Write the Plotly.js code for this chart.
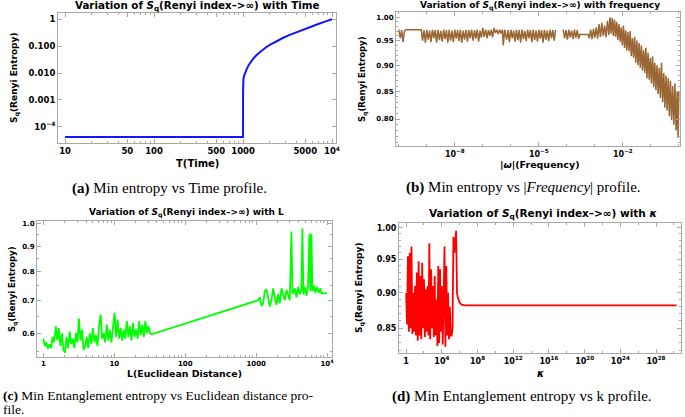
<!DOCTYPE html>
<html>
<head>
<meta charset="utf-8">
<script src="https://cdn.plot.ly/plotly-3.0.1.min.js"></script>
<style>
  body { margin: 0; background: #fff; }
  #chart { width: 685px; height: 417px; }
</style>
</head>
<body>
<div id="chart"></div>
<script>
// Data

// (a) entropy vs time
const timeT = [10, 1000, 1000.5, 1002, 1010, 1030, 1060, 1100, 1150, 1200, 1300, 1450, 1600, 1800,
  2000, 2400, 2800, 3300, 4000, 5000, 6000, 7000, 8500, 10000];
const entropyTime = [4.2e-5, 4.2e-5, 0.002, 0.004, 0.006, 0.008, 0.011, 0.014, 0.019, 0.024, 0.034, 0.05, 0.066, 0.089,
  0.11, 0.155, 0.2, 0.255, 0.33, 0.44, 0.55, 0.66, 0.83, 1.0];

// (b) entropy vs |frequency|, frequency given as powers of ten
const freqExp = [
  -10.0, -9.95, -9.9, -9.85, -9.8, -9.75, -9.2,
  -9.15, -9.1, -9.05, -9.0, -8.95, -8.9, -8.85, -8.8, -8.75, -8.7, -8.65, -8.6,
  -8.55, -8.5, -8.45, -8.4, -8.35, -8.3, -8.25, -8.2, -8.15, -8.1, -8.05, -8.0,
  -7.95, -7.9, -7.85, -7.8, -7.75, -7.7, -7.65, -7.6, -7.55, -7.5, -7.45, -7.4,
  -7.35, -7.3, -7.25, -7.2, -7.15, -7.1, -7.05, -7.0, -6.95, -6.9, -6.85, -6.8,
  -6.75, -6.7, -6.65, -6.6, -6.55, -6.5, -6.45, -6.4, -6.35, -6.3, -6.27, -6.22,
  -6.15, -6.1, -6.05, -6.0, -5.95, -5.9, -5.85, -5.8, -5.75, -5.7, -5.65, -5.6,
  -5.55, -5.5, -5.45, -5.4, -5.35, -5.3, -5.25, -5.2, -5.15, -5.1, -5.05, -5.0,
  -4.95, -4.9, -4.85, -4.8, -4.75, -4.7, -4.65, -4.6, -4.55, -4.5, -4.45, -4.4,
  -4.3,
  -4.13, -4.08, -4.03, -3.98, -3.93, -3.88, -3.83, -3.78, -3.73, -3.68, -3.63, -3.58, -3.54, -3.24,
  -3.2, -3.15, -3.1, -3.05, -3.0, -2.95, -2.9, -2.85, -2.8, -2.75, -2.7, -2.65,
  -2.6, -2.55, -2.5, -2.46, -2.42, -2.38, -2.34, -2.3, -2.26,
  -2.22, -2.18, -2.14, -2.1, -2.06, -2.02, -1.98, -1.94, -1.9, -1.86, -1.82, -1.78,
  -1.74, -1.7, -1.66, -1.62, -1.58, -1.54, -1.5, -1.46, -1.42, -1.38, -1.34, -1.3,
  -1.26, -1.22, -1.18, -1.14, -1.1, -1.06, -1.02, -0.98, -0.94, -0.9, -0.86, -0.82,
  -0.78, -0.74, -0.7, -0.66, -0.62, -0.58, -0.54, -0.5, -0.46, -0.42, -0.38, -0.34,
  -0.3, -0.26, -0.22, -0.18, -0.14, -0.1, -0.06, -0.03, 0.0
];
const entropyFreq = [
  0.973, 0.955, 0.972, 0.947, 0.970, 0.973, 0.973,
  0.950, 0.972, 0.946, 0.973, 0.952, 0.971, 0.947, 0.973, 0.955, 0.972, 0.946, 0.973,
  0.951, 0.970, 0.948, 0.973, 0.953, 0.972, 0.946, 0.973, 0.950, 0.971, 0.947, 0.973,
  0.954, 0.972, 0.949, 0.973, 0.946, 0.971, 0.952, 0.973, 0.948, 0.972, 0.955, 0.973,
  0.950, 0.972, 0.954, 0.973, 0.948, 0.971, 0.956, 0.977, 0.958, 0.973, 0.955, 0.972,
  0.960, 0.973, 0.957, 0.977, 0.966, 0.973, 0.964, 0.973, 0.965, 0.973, 0.940, 0.973,
  0.952, 0.972, 0.947, 0.973, 0.955, 0.971, 0.948, 0.973, 0.951, 0.972, 0.946, 0.973,
  0.953, 0.970, 0.949, 0.973, 0.955, 0.972, 0.947, 0.973, 0.951, 0.971, 0.948, 0.973,
  0.954, 0.972, 0.946, 0.973, 0.952, 0.971, 0.949, 0.973, 0.955, 0.972, 0.950, 0.973,
  null,
  0.973, 0.955, 0.972, 0.952, 0.973, 0.957, 0.971, 0.953, 0.973, 0.956, 0.972, 0.954, 0.963, 0.963,
  0.955, 0.973, 0.953, 0.975, 0.956, 0.978, 0.954, 0.985, 0.958, 0.988, 0.960, 0.982,
  0.957, 0.992, 0.962, 1.000, 0.965, 0.998, 0.960, 0.995, 0.958,
  0.990, 0.952, 0.985, 0.948, 0.978, 0.940, 0.982, 0.935, 0.972, 0.930, 0.968, 0.928,
  0.970, 0.918, 0.955, 0.915, 0.958, 0.905, 0.950, 0.900, 0.945, 0.895, 0.940, 0.890,
  0.930, 0.885, 0.935, 0.875, 0.925, 0.872, 0.915, 0.865, 0.918, 0.858, 0.905, 0.852,
  0.900, 0.845, 0.895, 0.838, 0.905, 0.830, 0.885, 0.820, 0.880, 0.815, 0.875, 0.805,
  0.870, 0.798, 0.860, 0.790, 0.865, 0.780, 0.850, 0.768, 0.850
];

// (c) entropy vs Euclidean distance
const distL = [
  1, 1.05, 1.1, 1.16, 1.22, 1.28, 1.35, 1.42, 1.5, 1.57, 1.65, 1.74, 1.83, 1.92,
  2.02, 2.12, 2.23, 2.35, 2.47, 2.6, 2.73, 2.87, 3.02, 3.17, 3.34, 3.51, 3.69, 3.88,
  4.08, 4.29, 4.51, 4.74, 4.99, 5.24, 5.51, 5.8, 6.1, 6.41, 6.74, 7.09, 7.45, 7.84,
  8.24, 8.66, 9.11, 9.58, 10.07, 10.59, 11.13, 11.7, 12.3, 12.94, 13.6, 14.3, 15.04,
  15.81, 16.62, 17.48, 18.38, 19.32, 20.32, 21.36, 22.46, 23.61, 24.83, 26.1, 27.45,
  28.86, 30.34, 31.9, 33.54,
  1072, 1127, 1189, 1256, 1325, 1399, 1476, 1559, 1645, 1737, 1833, 1935, 2042, 2156,
  2276, 2402, 2535, 2677, 2825, 2982, 3148, 3252, 3508, 3703, 3909, 4126, 4355, 4497,
  4645, 4856, 5126, 5410, 5648, 5833, 6025, 6223, 6494, 6855, 7236, 7638, 8062, 8328, 10000
];
const entropyDist = [
  0.585, 0.565, 0.575, 0.558, 0.570, 0.560, 0.590, 0.575, 0.620, 0.580, 0.615, 0.565, 0.600, 0.555,
  0.548, 0.590, 0.560, 0.605, 0.570, 0.585, 0.560, 0.600, 0.575, 0.643, 0.580, 0.610, 0.555, 0.565,
  0.590, 0.560, 0.600, 0.570, 0.615, 0.575, 0.595, 0.565, 0.620, 0.655, 0.585, 0.600, 0.575, 0.625,
  0.580, 0.610, 0.575, 0.630, 0.660, 0.590, 0.640, 0.585, 0.615, 0.580, 0.610, 0.585, 0.635,
  0.590, 0.620, 0.580, 0.630, 0.590, 0.610, 0.585, 0.635, 0.595, 0.625, 0.590, 0.635,
  0.600, 0.620, 0.600, 0.597,
  0.700, 0.710, 0.682, 0.690, 0.730, 0.737, 0.710, 0.680, 0.700, 0.740, 0.710, 0.685, 0.720, 0.690,
  0.740, 0.720, 0.700, 0.735, 0.720, 0.700, 0.965, 0.720, 0.740, 0.710, 0.745, 0.720, 0.735, 0.980,
  0.720, 0.745, 0.715, 0.750, 0.955, 0.730, 0.955, 0.730, 0.750, 0.725, 0.745, 0.725, 0.740, 0.723, 0.723
];

// (d) entropy vs kappa, kappa given as powers of ten
const kappaExp = [
  0.0, 0.1, 0.2, 0.3, 0.4, 0.5, 0.6, 0.7, 0.8, 0.9, 1.0, 1.1, 1.2, 1.3, 1.4, 1.5, 1.6, 1.7,
  1.8, 1.9, 2.0, 2.1, 2.2, 2.3, 2.4, 2.5, 2.6, 2.7, 2.8, 2.9, 3.0, 3.1, 3.2, 3.3, 3.4, 3.5,
  3.6, 3.7, 3.8, 3.9, 4.0, 4.1, 4.2, 4.3, 4.4, 4.5, 4.6, 4.7, 4.8, 4.9, 5.0, 5.1, 5.2,
  5.3, 5.4, 5.5, 5.6, 5.7, 5.8, 6.0, 6.2, 6.6, 30.3
];
const entropyKappa = [
  0.900, 0.855, 0.955, 0.845, 0.960, 0.850, 0.970, 0.842, 0.900, 0.845, 0.910, 0.840, 0.930, 0.833,
  0.947, 0.840, 0.925, 0.835, 0.945, 0.850, 0.920, 0.838, 0.905, 0.845, 0.910, 0.840, 0.975, 0.835,
  0.935, 0.850, 0.910, 0.838, 0.925, 0.840, 0.890, 0.826, 0.940, 0.830, 0.935, 0.845, 0.910, 0.828,
  0.890, 0.970, 0.825, 0.940, 0.840, 0.900, 0.835, 0.880, 0.840, 0.840, 0.850,
  0.985, 0.960, 0.990, 0.995, 0.900, 0.893, 0.886, 0.883, 0.882, 0.882
];

// Helpers

const W = 685;
const H = 417;
const px = (x) => x / W;
const py = (y) => 1 - y / H;
const pow10 = (arr) => arr.map((e) => (e === null ? null : Math.pow(10, e)));

const FONT = "DejaVu Sans";
const SERIF = "Liberation Serif";
const FRAME = "#a9a9a9";

const axisBase = function (left, right, size) {
  return {
    domain: [left, right],
    type: "log",
    showgrid: false,
    zeroline: false,
    showline: true,
    mirror: "ticks",
    linecolor: FRAME,
    linewidth: 1,
    ticks: "inside",
    ticklen: 4,
    tickcolor: FRAME,
    tickmode: "array",
    tickfont: { family: FONT, size: size, color: "#000", weight: "bold" },
  };
};

const note = function (text, x, y, size, extra) {
  return Object.assign(
    {
      text: text,
      xref: "paper",
      yref: "paper",
      x: px(x),
      y: py(y),
      xanchor: "center",
      yanchor: "middle",
      showarrow: false,
      font: { family: FONT, size: size, color: "#000", weight: "bold" },
    },
    extra || {}
  );
};

const caption = function (text, x, y, size, anchor) {
  return note(text, x, y, size, {
    xanchor: anchor || "center",
    font: { family: SERIF, size: size, color: "#000" },
  });
};

const sq = "<i>S</i><sub>q</sub>";

// Traces

const data = [
  {
    x: timeT,
    y: entropyTime,
    xaxis: "x",
    yaxis: "y",
    mode: "lines",
    line: { color: "#1414ff", width: 2 },
  },
  {
    x: pow10(freqExp),
    y: entropyFreq,
    xaxis: "x2",
    yaxis: "y2",
    mode: "lines",
    connectgaps: false,
    line: { color: "#9a6634", width: 1.5 },
  },
  {
    x: distL,
    y: entropyDist,
    xaxis: "x3",
    yaxis: "y3",
    mode: "lines",
    line: { color: "#00ff00", width: 1.8 },
  },
  {
    x: pow10(kappaExp),
    y: entropyKappa,
    xaxis: "x4",
    yaxis: "y4",
    mode: "lines",
    line: { color: "#ff0000", width: 1.8 },
  },
];

// Layout

const layout = {
  width: W,
  height: H,
  margin: { l: 0, r: 0, t: 0, b: 0 },
  paper_bgcolor: "#fff",
  plot_bgcolor: "#fff",
  showlegend: false,

  // (a)
  xaxis: Object.assign(axisBase(px(58), px(336), 8.5), {
    anchor: "y",
    range: [0.92, 4.045],
    tickvals: [10, 50, 100, 500, 1000, 5000, 10000],
    ticktext: ["10", "50", "100", "500", "1000", "5000", "10<sup>4</sup>"],
    minor: { ticks: "inside", ticklen: 2, tickcolor: FRAME, tickvals: [20, 30, 40, 60, 70, 80, 90, 200, 300, 400, 600, 700, 800, 900, 2000, 3000, 4000, 6000, 7000, 8000, 9000] },
  }),
  yaxis: Object.assign(axisBase(py(143), py(13), 8.5), {
    anchor: "x",
    range: [-4.6, 0.23],
    tickvals: [1e-4, 1e-3, 0.01, 0.1, 1],
    ticktext: ["10<sup>−4</sup>", "0.001", "0.010", "0.100", "1"],
  }),

  // (b)
  xaxis2: Object.assign(axisBase(px(396), px(680), 8), {
    anchor: "y2",
    range: [-10.1, 0.04],
    tickvals: [1e-8, 1e-5, 1e-2],
    ticktext: ["10<sup>−8</sup>", "10<sup>−5</sup>", "10<sup>−2</sup>"],
    minor: { ticks: "inside", ticklen: 2, tickcolor: FRAME, tickvals: [1e-10, 1e-9, 1e-7, 1e-6, 1e-4, 1e-3, 1e-1, 1] },
  }),
  yaxis2: Object.assign(axisBase(py(146), py(12), 7), {
    anchor: "x2",
    range: [-0.1226, 0.005],
    tickvals: [0.8, 0.85, 0.9, 0.95, 1.0],
    ticktext: ["0.80", "0.85", "0.90", "0.95", "1.00"],
    minor: { ticks: "inside", ticklen: 2, tickcolor: FRAME, tickvals: [0.76, 0.77, 0.78, 0.79, 0.81, 0.82, 0.83, 0.84, 0.86, 0.87, 0.88, 0.89, 0.91, 0.92, 0.93, 0.94, 0.96, 0.97, 0.98, 0.99] },
  }),

  // (c)
  xaxis3: Object.assign(axisBase(px(37), px(332), 7), {
    anchor: "y3",
    range: [-0.09, 4.07],
    tickvals: [1, 10, 100, 1000, 10000],
    ticktext: ["1", "10", "100", "1000", "10<sup>4</sup>"],
    minor: { ticks: "inside", ticklen: 2, tickcolor: FRAME, tickvals: [2, 3, 4, 5, 6, 7, 8, 9, 20, 30, 40, 50, 60, 70, 80, 90, 200, 300, 400, 500, 600, 700, 800, 900, 2000, 3000, 4000, 5000, 6000, 7000, 8000, 9000] },
  }),
  yaxis3: Object.assign(axisBase(py(357), py(221), 7), {
    anchor: "x3",
    range: [-0.27, 0.006],
    tickvals: [0.6, 0.7, 0.8, 0.9, 1.0],
    ticktext: ["0.6", "0.7", "0.8", "0.9", "1.0"],
    minor: { ticks: "inside", ticklen: 2, tickcolor: FRAME, tickvals: [0.55, 0.65, 0.75, 0.85, 0.95] },
  }),

  // (d)
  xaxis4: Object.assign(axisBase(px(399), px(681), 8), {
    anchor: "y4",
    range: [-0.8, 30.8],
    tickvals: [1, 1e4, 1e8, 1e12, 1e16, 1e20, 1e24, 1e28],
    ticktext: ["1", "10<sup>4</sup>", "10<sup>8</sup>", "10<sup>12</sup>", "10<sup>16</sup>", "10<sup>20</sup>", "10<sup>24</sup>", "10<sup>28</sup>"],
    minor: { ticks: "inside", ticklen: 2, tickcolor: FRAME, tickvals: [1e2, 1e6, 1e10, 1e14, 1e18, 1e22, 1e26, 1e30] },
  }),
  yaxis4: Object.assign(axisBase(py(353), py(223), 8), {
    anchor: "x4",
    range: [-0.088, 0.0033],
    tickvals: [0.85, 0.9, 0.95, 1.0],
    ticktext: ["0.85", "0.90", "0.95", "1.00"],
    minor: { ticks: "inside", ticklen: 2, tickcolor: FRAME, tickvals: [0.82, 0.83, 0.84, 0.86, 0.87, 0.88, 0.89, 0.91, 0.92, 0.93, 0.94, 0.96, 0.97, 0.98, 0.99] },
  }),

  annotations: [
    // Titles
    note("Variation of " + sq + "(Renyi index–>∞) with Time", 197, 6, 10.3),
    note("Variation of " + sq + "(Renyi index–>∞) with frequency", 540, 6, 9),
    note("Variation of " + sq + "(Renyi index–>∞) with L", 187, 213, 9),
    note("Variation of " + sq + "(Renyi index–>∞) with <i>κ</i>", 543, 214, 10.5),

    // Axis titles
    note("T(Time)", 197, 163, 10),
    note("|<i>ω</i>|(Frequency)", 540, 164, 9.5),
    note("L(Euclidean Distance)", 184, 373, 9.4),
    note("<i>κ</i>", 540, 373, 10),
    note("S<sub>q</sub>(Renyi Entropy)", 15, 78, 9, { textangle: -90 }),
    note("S<sub>q</sub>(Renyi Entropy)", 363, 79, 8.5, { textangle: -90 }),
    note("S<sub>q</sub>(Renyi Entropy)", 13, 289, 8.5, { textangle: -90 }),
    note("S<sub>q</sub>(Renyi Entropy)", 360, 288, 9, { textangle: -90 }),

    // Captions
    caption("<b>(a)</b> Min entropy vs Time profile.", 169, 188, 15),
    caption("<b>(b)</b> Min entropy vs |<i>Frequency</i>| profile.", 523, 187, 15),
    caption("<b>(c)</b> Min Entanglement entropy vs Euclidean distance pro-", 1, 395, 13.5, "left"),
    caption("file.", 1, 409, 13.5, "left"),
    caption("<b>(d)</b> Min Entanglement entropy vs k profile.", 522, 396, 15),
  ],
};

Plotly.newPlot("chart", data, layout, { displayModeBar: false, staticPlot: true });
</script>
</body>
</html>
